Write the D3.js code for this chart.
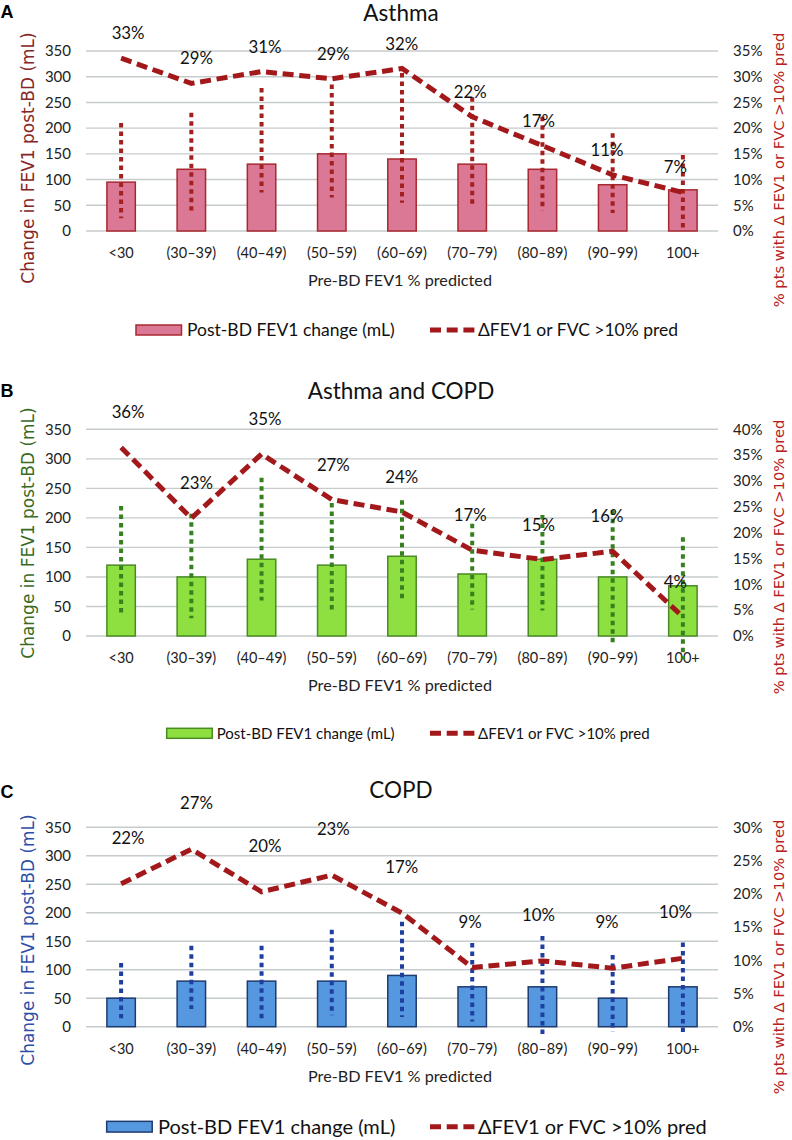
<!DOCTYPE html>
<html><head><meta charset="utf-8">
<script src="https://cdn.jsdelivr.net/npm/d3@7"></script>
<style>body{margin:0;background:#fff}svg{display:block}</style>
</head><body><svg id="c" width="792" height="1140"></svg>
<script>
// ---------- DATA ----------
const categories = ["<30","(30–39)","(40–49)","(50–59)","(60–69)","(70–79)","(80–89)","(90–99)","100+"];
const leftTicks = [0,50,100,150,200,250,300,350];

const asthmaBars = [95,120,130,150,140,130,120,90,80];
const asthmaErrLow = [25,40,75,65,55,45,40,35,0];
const asthmaErrHigh = [210,230,278,285,307,260,222,190,148];
const asthmaPct = [33.6,28.7,31.0,29.6,31.6,22.2,16.6,10.9,7.5];
const asthmaPctLabels = ["33%","29%","31%","29%","32%","22%","17%","11%","7%"];
const asthmaRightTicks = [0,5,10,15,20,25,30,35];

const overlapBars = [120,100,130,120,135,105,130,100,85];
const overlapErrLow = [35,30,60,45,60,45,43,-12,-40];
const overlapErrHigh = [220,207,268,225,230,190,205,213,167];
const overlapPct = [36.5,22.8,35.2,26.4,24.0,16.6,14.8,16.4,3.7];
const overlapPctLabels = ["36%","23%","35%","27%","24%","17%","15%","16%","4%"];
const overlapRightTicks = [0,5,10,15,20,25,30,35,40];

const copdBars = [50,80,80,80,90,70,70,50,70];
const copdErrLow = [15,31,15,20,17,9,-20,-9,-15];
const copdErrHigh = [112,142,142,170,184,147,159,126,148];
const copdPct = [21.5,26.7,20.3,22.8,17.1,8.9,9.9,8.8,10.3];
const copdPctLabels = ["22%","27%","20%","23%","17%","9%","10%","9%","10%"];
const copdRightTicks = [0,5,10,15,20,25,30];

const titles = ["Asthma","Asthma and COPD","COPD"];
const panelLetters = ["A","B","C"];
const leftAxisTitle = "Change in FEV1 post-BD (mL)";
const rightAxisTitle = "% pts  with \u0394 FEV1 or FVC >10% pred";
const xAxisTitle = "Pre-BD FEV1 % predicted";
const legendBarText = "Post-BD FEV1 change (mL)";
const legendLineText = "\u0394FEV1 or FVC >10% pred";

// ---------- LAYOUT / STYLE ----------
const svg = d3.select("#c");
const plotLeft = 86, plotRight = 718;
const lineColor = "#a3191b";
const calibri = "Lato, 'Open Sans', sans-serif";
const verd = "'DejaVu Sans', sans-serif";

const x = d3.scaleBand().domain(categories).range([plotLeft, plotRight]).paddingInner(0.595).paddingOuter(0.2975);
const cx = c => x(c) + x.bandwidth()/2;
const labelX = d3.scalePoint().domain(categories).range([cx(categories[0]) + 7, cx(categories[8]) - 7.5]);

const panels = [
  {bars: asthmaBars, lo: asthmaErrLow, hi: asthmaErrHigh, pct: asthmaPct, labels: asthmaPctLabels, rticks: asthmaRightTicks,
   top: 51, bottom: 231, fill: "#da7896", stroke: "#a8282f", err: "#a3201f", leftColor: "#862626",
   titleY: 21, letterY: 18.3, legendY: 330, legendFont: 17.5, swatchX: 136, textX: 187, swatchH: 10,
   leftCenter: 158, rightCenter: 170, labelOff: 25},
  {bars: overlapBars, lo: overlapErrLow, hi: overlapErrHigh, pct: overlapPct, labels: overlapPctLabels, rticks: overlapRightTicks,
   top: 429.3, bottom: 636, fill: "#8ee040", stroke: "#4a8a24", err: "#37801f", leftColor: "#3a6b1f",
   titleY: 399.3, letterY: 397, legendY: 733.3, legendFont: 15, swatchX: 166.7, textX: 216.7, swatchH: 10,
   leftCenter: 533, rightCenter: 557, labelOff: 35},
  {bars: copdBars, lo: copdErrLow, hi: copdErrHigh, pct: copdPct, labels: copdPctLabels, rticks: copdRightTicks,
   top: 827.3, bottom: 1026.7, fill: "#5598e0", stroke: "#1f3a6e", err: "#1f3fa0", leftColor: "#2e4fa8",
   titleY: 798.3, letterY: 798.3, legendY: 1126.7, legendFont: 20, swatchX: 106.7, textX: 158, swatchH: 10.7,
   leftCenter: 940, rightCenter: 957, labelOff: 46}
];

panels.forEach((p, i) => {
  const g = svg.append("g");
  const y = d3.scaleLinear().domain([0, 350]).range([p.bottom, p.top]);
  const yR = d3.scaleLinear().domain([0, d3.max(p.rticks)]).range([p.bottom, p.top]);

  // letter & title
  g.append("text").attr("x", 0.5).attr("y", p.letterY).text(panelLetters[i])
    .attr("font-family", "'Liberation Sans', Arial, sans-serif").attr("font-weight", "bold").attr("font-size", 18).attr("fill", "#000");
  g.append("text").attr("x", 401).attr("y", p.titleY).attr("text-anchor", "middle").text(titles[i])
    .attr("font-family", calibri).attr("font-size", 22.5).attr("fill", "#111");

  // gridlines
  g.append("g").selectAll("line").data(leftTicks).join("line")
    .attr("x1", plotLeft).attr("x2", plotRight).attr("y1", d => y(d)).attr("y2", d => y(d))
    .attr("stroke", "#c6cbcb").attr("stroke-width", 1.4);

  // left axis
  const la = g.append("g").attr("transform", `translate(${plotLeft},0)`)
    .call(d3.axisLeft(y).tickValues(leftTicks).tickSize(0).tickPadding(15));
  la.select(".domain").remove();
  la.selectAll("text").attr("font-family", calibri).attr("font-size", 15).attr("fill", "#222");

  // right axis
  const ra = g.append("g").attr("transform", `translate(${plotRight},0)`)
    .call(d3.axisRight(yR).tickValues(p.rticks).tickSize(0).tickPadding(15).tickFormat(d => d + "%"));
  ra.select(".domain").remove();
  ra.selectAll("text").attr("font-family", calibri).attr("font-size", 15).attr("fill", "#222");

  // x axis
  const xa = g.append("g").attr("transform", `translate(0,${p.bottom})`)
    .call(d3.axisBottom(x).tickSize(0).tickPadding(17));
  xa.select(".domain").remove();
  xa.selectAll("text").attr("font-family", calibri).attr("font-size", 14.5).attr("fill", "#222");

  // bars
  g.append("g").selectAll("rect").data(p.bars).join("rect")
    .attr("x", (d, k) => x(categories[k])).attr("width", x.bandwidth())
    .attr("y", d => y(d)).attr("height", d => y(0) - y(d))
    .attr("fill", p.fill).attr("stroke", p.stroke).attr("stroke-width", 1.5);

  // error bars (dotted)
  g.append("g").selectAll("line").data(p.hi).join("line")
    .attr("x1", (d, k) => cx(categories[k])).attr("x2", (d, k) => cx(categories[k]))
    .attr("y1", d => y(d)).attr("y2", (d, k) => y(p.lo[k]))
    .attr("stroke", p.err).attr("stroke-width", 4).attr("stroke-dasharray", "4.5,4");

  // dashed line
  const line = d3.line().x((d, k) => cx(categories[k])).y(d => yR(d));
  g.append("path").datum(p.pct).attr("d", line).attr("fill", "none")
    .attr("stroke", lineColor).attr("stroke-width", 5).attr("stroke-dasharray", "11,5.7");

  // data labels
  g.append("g").selectAll("text").data(p.pct).join("text")
    .attr("x", (d, k) => labelX(categories[k])).attr("y", d => yR(d) - p.labelOff)
    .attr("dy", "0.36em").attr("text-anchor", "middle").text((d, k) => p.labels[k])
    .attr("font-family", calibri).attr("font-size", 16.8).attr("fill", "#111");

  // x title
  g.append("text").attr("x", 400).attr("y", p.bottom + 49).attr("dy", "0.36em").attr("text-anchor", "middle")
    .text(xAxisTitle).attr("font-family", calibri).attr("font-size", 16.2).attr("fill", "#222");

  // left axis title
  g.append("text").attr("transform", `translate(34,${p.leftCenter}) rotate(-90)`).attr("text-anchor", "middle")
    .text(leftAxisTitle).attr("font-family", verd).attr("font-size", 17).attr("fill", p.leftColor);
  // right axis title
  g.append("text").attr("transform", `translate(784,${p.rightCenter}) rotate(-90)`).attr("text-anchor", "middle")
    .text(rightAxisTitle).attr("font-family", verd).attr("font-size", 14.7).attr("fill", "#b52020");

  // legend
  const lg = g.append("g");
  lg.append("rect").attr("x", p.swatchX).attr("y", p.legendY - p.swatchH/2).attr("width", 45.5).attr("height", p.swatchH)
    .attr("fill", p.fill).attr("stroke", p.stroke).attr("stroke-width", 1.5);
  lg.append("text").attr("x", p.textX).attr("y", p.legendY).attr("dy", "0.36em").text(legendBarText)
    .attr("font-family", calibri).attr("font-size", p.legendFont).attr("fill", "#111");
  lg.append("line").attr("x1", 430).attr("x2", 474.4).attr("y1", p.legendY).attr("y2", p.legendY)
    .attr("stroke", lineColor).attr("stroke-width", 5).attr("stroke-dasharray", "11,5.7");
  lg.append("text").attr("x", 478).attr("y", p.legendY).attr("dy", "0.36em").text(legendLineText)
    .attr("font-family", calibri).attr("font-size", p.legendFont).attr("fill", "#111");
});
</script></body></html>
